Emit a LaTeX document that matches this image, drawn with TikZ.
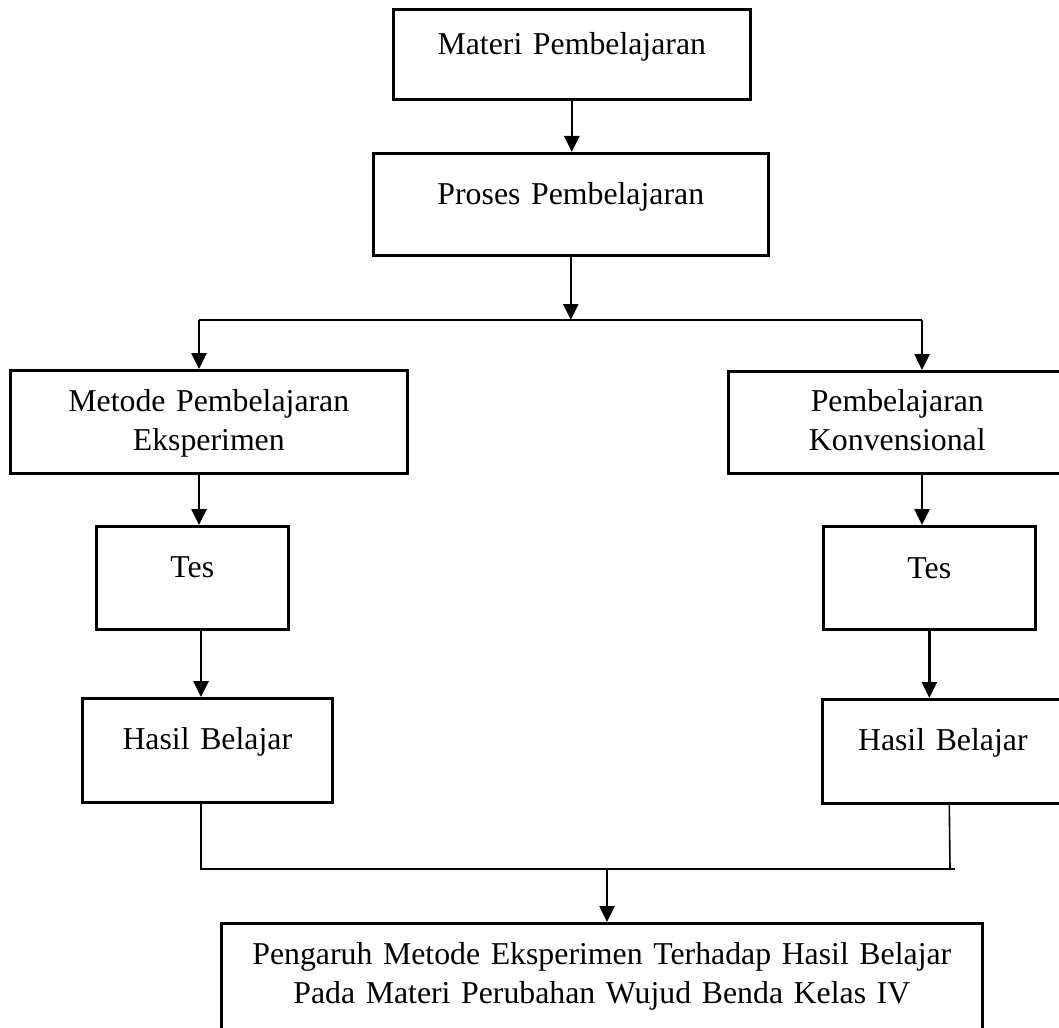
\documentclass[tikz,border=0pt]{standalone}
\usepackage{fontspec}
\setmainfont{Liberation Serif}
\usetikzlibrary{arrows.meta}

\tikzset{
    box/.style={draw, line width=2.6pt, anchor=north west, inner sep=0pt,
        align=center, font=\fontsize{31.8}{39}\selectfont},
    flow/.style={line width=2.6pt, -{Triangle[length=16pt,width=15pt]}},
    link/.style={line width=2pt}
}

\begin{document}
\begin{tikzpicture}[x=1pt, y=-1pt]
    \useasboundingbox (0,0) rectangle (1059,1027);

    % boxes, placed by their top left corner
    \node[box, text width=357pt, text height=45pt, text depth=45pt] (materi) at (392,8) {Materi Pembelajaran};
    \node[box, text width=395pt, text height=51pt, text depth=51pt] (proses) at (372,152) {Proses Pembelajaran};
    \node[box, text width=397pt, text height=41pt, text depth=62pt] (metode) at (9,369) {Metode Pembelajaran\\Eksperimen};
    \node[box, text width=338pt, text height=40pt, text depth=62pt] (konv) at (727,370) {Pembelajaran\\Konvensional};
    \node[box, text width=192pt, text height=51pt, text depth=52pt] (tesL) at (95,525) {Tes};
    \node[box, text width=212pt, text height=52pt, text depth=51pt] (tesR) at (822,525) {Tes};
    \node[box, text width=250pt, text height=51pt, text depth=53pt] (hasilL) at (81,697) {Hasil Belajar};
    \node[box, text width=241pt, text height=51pt, text depth=53pt] (hasilR) at (821,698) {Hasil Belajar};
    \node[box, text width=761pt, text height=41pt, text depth=113pt] (pengaruh) at (220,922) {Pengaruh Metode Eksperimen Terhadap Hasil Belajar\\Pada Materi Perubahan Wujud Benda Kelas IV};

    % branch and merge points
    \coordinate (forkL) at (199,320);
    \coordinate (forkR) at (922,320);
    \coordinate (mergeL) at (201,869);
    \coordinate (mergeR) at (955,869);
    \coordinate (merge) at (607,869);

    \draw[flow] (materi.south) -- (materi.south |- proses.north);
    \draw[flow] (proses.south) -- (proses.south |- forkL);
    \draw[link] (forkL) -- (forkR);
    \draw[flow] (forkL) -- (forkL |- metode.north);
    \draw[flow] (forkR) -- (forkR |- konv.north);

    \draw[flow] (metode.south -| forkL) -- (tesL.north -| forkL);
    \draw[flow] (tesL.south -| mergeL) -- (hasilL.north -| mergeL);
    \draw[flow] (konv.south -| forkR) -- (tesR.north -| forkR);
    \draw[flow] (tesR.south) -- (tesR.south |- hasilR.north);

    \draw[link] (hasilL.south -| mergeL) -- (mergeL) -- (mergeR);
    \draw[line width=1.6pt] ([xshift=6.5pt]hasilR.south) -- ([xshift=-5pt]mergeR);
    \draw[flow] (merge) -- (merge |- pengaruh.north);
\end{tikzpicture}
\end{document}
